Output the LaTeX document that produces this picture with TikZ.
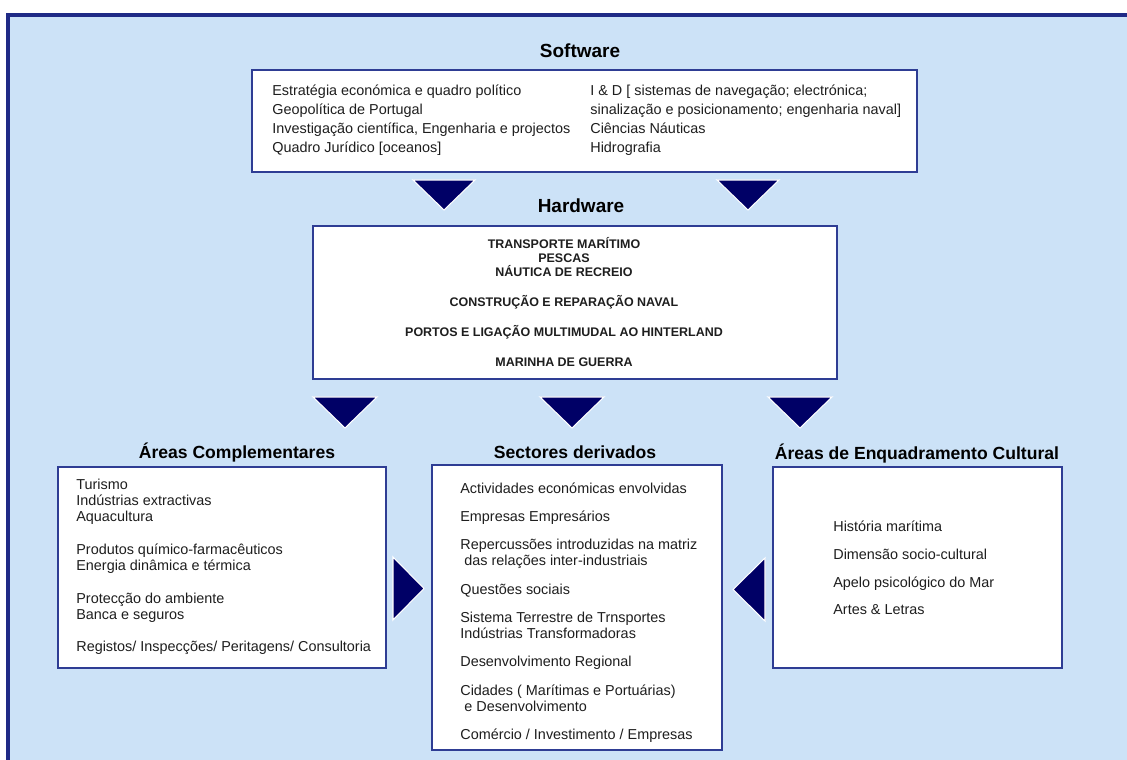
\documentclass[tikz,border=0pt]{standalone}
\usepackage{fontspec}
\setmainfont{Liberation Sans}
\usetikzlibrary{positioning}
\definecolor{seabg}{HTML}{CCE2F7}
\definecolor{framenavy}{HTML}{1F2A86}
\definecolor{boxline}{HTML}{2E3D94}
\definecolor{trinavy}{HTML}{000066}
\definecolor{inktext}{HTML}{1E1E1E}
\tikzset{
  panel/.style={draw=boxline, line width=1.1pt, fill=white, inner sep=0pt},
  heading/.style={font=\bfseries\fontsize{10}{12}\selectfont, inner sep=0pt},
  bigheading/.style={font=\bfseries\fontsize{10.8}{13}\selectfont, inner sep=0pt},
  itemtext/.style={align=left, anchor=west, inner sep=0pt, text=inktext},
  tri/.style={fill=trinavy, draw=white, line width=0.6pt, line join=miter}
}
\newcommand{\bodyfont}[1]{\fontsize{8.2}{#1}\selectfont}

\begin{document}
\begin{tikzpicture}[x=0.02cm, y=-0.02cm]
  \useasboundingbox (0,0) rectangle (1127,760);
  % background frame
  \fill[seabg] (8,15) rectangle (1140,780);
  \draw[framenavy, line width=2pt] (8,780) -- (8,15) -- (1140,15);

  % software
  \node[bigheading] (swtitle) at (580,50.5) {Software};
  \node[panel, minimum width=13.3cm, minimum height=2.04cm] (sw) at (584.5,121) {};
  \node[itemtext, font=\bodyfont{10.8pt}] (swleft) at (272,120)
    {Estratégia económica e quadro político\\
     Geopolítica de Portugal\\
     Investigação científica, Engenharia e projectos\\
     Quadro Jurídico [oceanos]};
  \node[itemtext, font=\bodyfont{10.8pt}] (swright) at (590,120)
    {I \& D [ sistemas de navegação; electrónica;\\
     sinalização e posicionamento; engenharia naval]\\
     Ciências Náuticas\\
     Hidrografia};

  % hardware
  \node[bigheading] (hwtitle) at (581,205.5) {Hardware};
  \node[panel, minimum width=10.48cm, minimum height=3.06cm] (hw) at (575,302.5) {};
  \node[align=center, inner sep=0pt, text=inktext, font=\bfseries\fontsize{7.1}{8pt}\selectfont] (hwtext) at (564,302)
    {TRANSPORTE MARÍTIMO\\
     PESCAS\\
     NÁUTICA DE RECREIO\\[9pt]
     CONSTRUÇÃO E REPARAÇÃO NAVAL\\[9pt]
     PORTOS E LIGAÇÃO MULTIMUDAL AO HINTERLAND\\[9pt]
     MARINHA DE GUERRA};

  % three lower panels
  \node[heading] (comptitle) at (237,452.5) {Áreas Complementares};
  \node[heading] (secttitle) at (575,452.5) {Sectores derivados};
  \node[heading] (culttitle) at (917,454) {Áreas de Enquadramento Cultural};

  \node[panel, minimum width=6.56cm, minimum height=4.02cm] (comp) at (222,567.5) {};
  \node[panel, minimum width=5.8cm, minimum height=5.7cm] (sect) at (577,607.5) {};
  \node[panel, minimum width=5.78cm, minimum height=4.02cm] (cult) at (917.5,567.5) {};

  \node[itemtext, font=\bodyfont{9.1pt}] (comptext) at (76,567)
    {Turismo\\
     Indústrias extractivas\\
     Aquacultura\\[9.6pt]
     Produtos químico-farmacêuticos\\
     Energia dinâmica e térmica\\[9.6pt]
     Protecção do ambiente\\
     Banca e seguros\\[9.6pt]
     Registos/ Inspecções/ Peritagens/ Consultoria};

  \node[itemtext, font=\bodyfont{9.1pt}] (secttext) at (460,612.5)
    {Actividades económicas envolvidas\\[7pt]
     Empresas Empresários\\[7pt]
     Repercussões introduzidas na matriz\\
     \ das relações inter-industriais\\[7pt]
     Questões sociais\\[7pt]
     Sistema Terrestre de Trnsportes\\
     Indústrias Transformadoras\\[7pt]
     Desenvolvimento Regional\\[7pt]
     Cidades ( Marítimas e Portuárias)\\
     \ e Desenvolvimento\\[7pt]
     Comércio / Investimento / Empresas};

  \node[itemtext, font=\bodyfont{15.7pt}] (culttext) at (833,568)
    {História marítima\\
     Dimensão socio-cultural\\
     Apelo psicológico do Mar\\
     Artes \& Letras};

  % arrows
  \foreach \cx in {444,748}
    \draw[tri] (\cx-31,180) -- (\cx+31,180) -- (\cx,210) -- cycle;
  \foreach \cx in {345,572,800}
    \draw[tri] (\cx-32,397) -- (\cx+32,397) -- (\cx,428) -- cycle;
  \draw[tri] (393,557) -- (393,620) -- (424,588.5) -- cycle;
  \draw[tri] (765,558) -- (765,621) -- (733,589.5) -- cycle;
\end{tikzpicture}
\end{document}
